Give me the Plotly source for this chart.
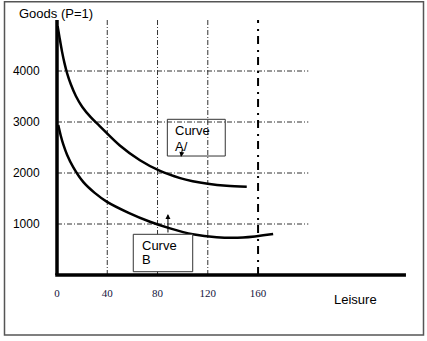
import plotly.graph_objects as go

# Indifference curves: goods consumed vs. hours of leisure
curve_a_leisure = [0.5, 2, 4, 6, 8, 11, 15, 20, 27, 34, 50, 66, 82, 98, 108, 120, 135, 151]
curve_a_goods = [4880, 4660, 4380, 4150, 3960, 3740, 3510, 3300, 3090, 2920, 2540, 2250, 2040, 1900, 1840, 1790, 1750, 1730]

curve_b_leisure = [1, 3, 5, 8, 13, 21, 30, 39.5, 57, 74, 90, 108, 127, 148, 172]
curve_b_goods = [2940, 2730, 2560, 2360, 2110, 1820, 1610, 1440, 1220, 1045, 915, 800, 740, 735, 804]

x_ticks = [0, 40, 80, 120, 160]
y_ticks = [1000, 2000, 3000, 4000]
grid_x = [40, 80, 120]
grid_y = [1000, 2000, 3000, 4000]
time_limit = 160
grid_x_end = 200
y_top = 5000
x_axis_end = 277.7

# pixel scale of the plotting area
PX_X = 1.2566
PX_Y = 0.051
L, R, T, B = 47, 11, 10, 56
W, H = 427, 341
PW, PH = W - L - R, H - T - B
x_range = [-(57 - L) / PX_X, (W - R - 57) / PX_X]
y_range = [-((H - B) - 275) / PX_Y, (275 - T) / PX_Y]


def paper_x(px):
    return (px - L) / PW


def paper_y(py):
    return (H - B - py) / PH


fig = go.Figure()

for xs, ys in [(curve_a_leisure, curve_a_goods), (curve_b_leisure, curve_b_goods)]:
    fig.add_trace(go.Scatter(
        x=xs, y=ys, mode="lines",
        line=dict(color="black", width=2.5, shape="spline", smoothing=0.9),
        hoverinfo="skip", showlegend=False,
    ))

shapes = []
grid_line = dict(color="#333333", width=1, dash="5px,2px,1px,2px")
for gx in grid_x:
    shapes.append(dict(type="line", xref="x", yref="y", x0=gx, x1=gx, y0=0, y1=y_top,
                       line=grid_line, layer="below"))
for gy in grid_y:
    shapes.append(dict(type="line", xref="x", yref="y", x0=0, x1=grid_x_end, y0=gy, y1=gy,
                       line=grid_line, layer="below"))
# total time endowment
shapes.append(dict(type="line", xref="x", yref="y", x0=time_limit, x1=time_limit, y0=0, y1=y_top,
                   line=dict(color="black", width=2, dash="8px,5px,2px,6px"), layer="below"))
# axes
shapes.append(dict(type="line", xref="x", yref="y", x0=0, x1=0, y0=0, y1=y_top,
                   line=dict(color="black", width=3.5)))
shapes.append(dict(type="line", xref="x", yref="y", x0=-1.4, x1=x_axis_end, y0=0, y1=0,
                   line=dict(color="black", width=3.5)))
# label boxes
shapes.append(dict(type="rect", xref="x", yref="y", x0=87.8, x1=133.9, y0=2333, y1=3053,
                   line=dict(color="#333333", width=1), fillcolor="rgba(0,0,0,0)"))
shapes.append(dict(type="rect", xref="x", yref="y", x0=60.7, x1=108.0, y0=65, y1=798,
                   line=dict(color="#333333", width=1), fillcolor="white"))
# outer frame
shapes.append(dict(type="rect", xref="paper", yref="paper",
                   x0=paper_x(4.5), x1=paper_x(423.5), y0=paper_y(335), y1=paper_y(1.7),
                   line=dict(color="#555555", width=1.5)))

sans = "Liberation Sans, Arial, sans-serif"
text_font = dict(family=sans, size=13, color="black")
ann = [
    dict(text="Curve", x=92.1, y=2824, xref="x", yref="y", xanchor="left", yanchor="middle",
         showarrow=False, font=text_font),
    dict(text="A/", x=92.1, y=2510, xref="x", yref="y", xanchor="left", yanchor="middle",
         showarrow=False, font=text_font),
    dict(text="Curve", x=66.1, y=575, xref="x", yref="y", xanchor="left", yanchor="middle",
         showarrow=False, font=text_font),
    dict(text="B", x=66.1, y=300, xref="x", yref="y", xanchor="left", yanchor="middle",
         showarrow=False, font=text_font),
    dict(text="", x=98.7, y=2314, xref="x", yref="y", showarrow=True, ax=1.5, ay=-9,
         arrowhead=2, arrowsize=1, arrowwidth=1, arrowcolor="black"),
    dict(text="", x=88.3, y=1196, xref="x", yref="y", showarrow=True, ax=0, ay=20,
         arrowhead=2, arrowsize=1, arrowwidth=1, arrowcolor="black"),
    dict(text="Goods (P=1)", x=paper_x(17), y=paper_y(13.5), xref="paper", yref="paper",
         xanchor="left", yanchor="middle", showarrow=False, font=text_font),
    dict(text="Leisure", x=paper_x(355), y=paper_y(299), xref="paper", yref="paper",
         xanchor="center", yanchor="middle", showarrow=False, font=text_font),
]

fig.update_layout(
    width=W, height=H,
    margin=dict(l=L, r=R, t=T, b=B),
    paper_bgcolor="white", plot_bgcolor="white",
    shapes=shapes, annotations=ann,
    xaxis=dict(range=x_range, showgrid=False, zeroline=False, showline=False,
               tickvals=x_ticks, ticktext=[str(v) for v in x_ticks],
               ticks="",
               tickfont=dict(family="Liberation Serif, Times New Roman, serif", size=11, color="#14143c"),
               fixedrange=True),
    yaxis=dict(range=y_range, showgrid=False, zeroline=False, showline=False,
               tickvals=y_ticks, ticktext=[str(v) for v in y_ticks],
               ticks="outside", ticklen=4, tickcolor="rgba(0,0,0,0)",
               tickfont=dict(family=sans, size=12, color="black"),
               fixedrange=True),
)

fig.write_html("out.html")
